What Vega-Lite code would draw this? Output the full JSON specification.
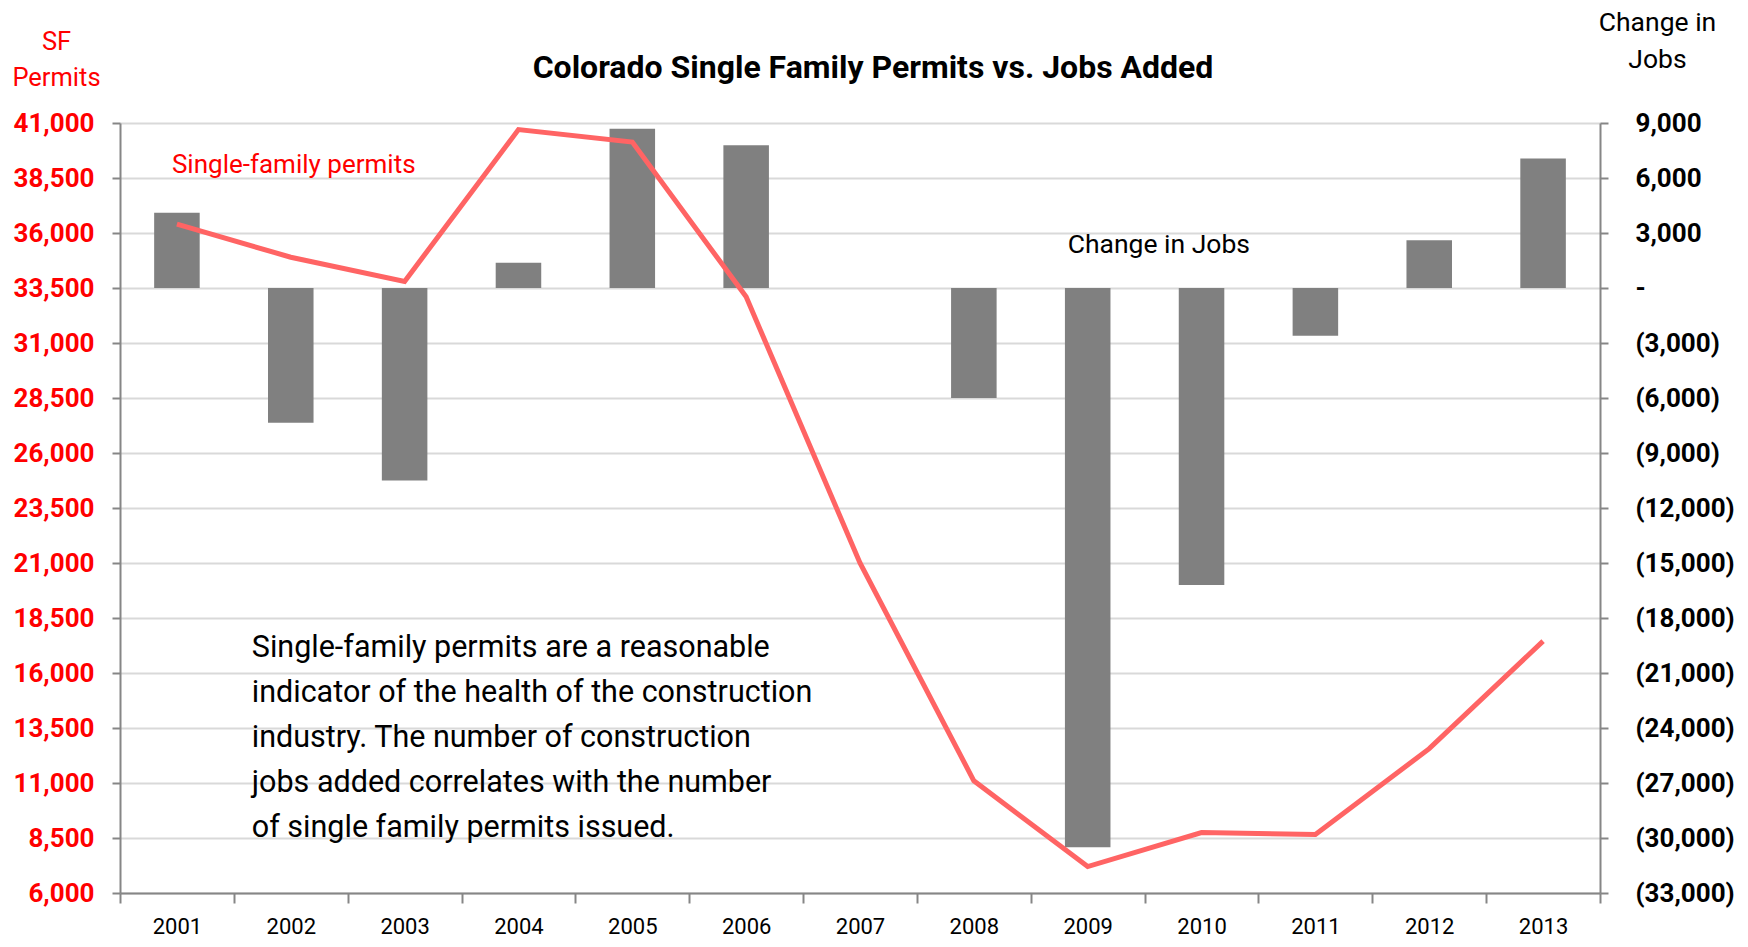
{
  "$schema": "https://vega.github.io/schema/vega-lite/v6.json",
  "width": 1480,
  "height": 770,
  "autosize": {"type": "none"},
  "padding": {"left": 120, "top": 123, "right": 148, "bottom": 54},
  "background": "white",
  "title": {
    "text": "Colorado Single Family Permits vs. Jobs Added",
    "font": "Roboto",
    "fontSize": 32,
    "fontWeight": "bold",
    "color": "#000000",
    "anchor": "middle",
    "frame": "group",
    "baseline": "alphabetic",
    "dx": 13,
    "offset": -101
  },
  "datasets": {
    "main": [
      {"year": "2001", "permits": 36400, "jobs": 4100},
      {"year": "2002", "permits": 34900, "jobs": -7350},
      {"year": "2003", "permits": 33800, "jobs": -10500},
      {"year": "2004", "permits": 40700, "jobs": 1380},
      {"year": "2005", "permits": 40130, "jobs": 8690},
      {"year": "2006", "permits": 33100, "jobs": 7780},
      {"year": "2007", "permits": 21000, "jobs": 0},
      {"year": "2008", "permits": 11100, "jobs": -6000},
      {"year": "2009", "permits": 7200, "jobs": -30500},
      {"year": "2010", "permits": 8750, "jobs": -16200},
      {"year": "2011", "permits": 8660, "jobs": -2600},
      {"year": "2012", "permits": 12560, "jobs": 2600},
      {"year": "2013", "permits": 17450, "jobs": 7070}
    ]
  },
  "layer": [
    {
      "data": {"name": "main"},
      "mark": {"type": "bar", "color": "#808080", "width": {"band": 0.4}},
      "encoding": {
        "x": {
          "field": "year", "type": "ordinal",
          "scale": {"paddingInner": 0, "paddingOuter": 0},
          "axis": {
            "title": null, "labelAngle": 0, "tickBand": "extent",
            "labelFontSize": 22, "labelColor": "#000000", "labelFont": "Roboto",
            "tickSize": 10, "labelPadding": 13, "grid": false
          }
        },
        "y": {
          "field": "jobs", "type": "quantitative",
          "scale": {"domain": [-33000, 9000], "nice": false},
          "axis": {
            "orient": "right",
            "values": [-33000, -30000, -27000, -24000, -21000, -18000, -15000, -12000, -9000, -6000, -3000, 0, 3000, 6000, 9000],
            "labelExpr": "datum.value == 0 ? '-' : (datum.value < 0 ? '(' + format(-datum.value, ',') + ')' : format(datum.value, ','))",
            "grid": false,
            "labelFontSize": 26, "labelFontWeight": "bold", "labelColor": "#000000", "labelFont": "Roboto",
            "tickSize": 8, "labelPadding": 27,
            "title": ["Change in", "Jobs"],
            "titleAngle": 0, "titleAlign": "center", "titleBaseline": "alphabetic",
            "titleX": 57, "titleY": -93,
            "titleFont": "Roboto", "titleFontSize": 26.5, "titleFontWeight": "normal",
            "titleColor": "#000000", "titleLineHeight": 37
          }
        }
      }
    },
    {
      "layer": [
        {
          "data": {"name": "main"},
          "mark": {"type": "line", "color": "#FF6464", "strokeWidth": 5},
          "encoding": {
            "x": {"field": "year", "type": "ordinal", "bandPosition": 0.5},
            "y": {
              "field": "permits", "type": "quantitative",
              "scale": {"domain": [6000, 41000], "nice": false},
              "axis": {
                "orient": "left",
                "values": [6000, 8500, 11000, 13500, 16000, 18500, 21000, 23500, 26000, 28500, 31000, 33500, 36000, 38500, 41000],
                "labelExpr": "format(datum.value, ',')",
                "grid": true,
                "labelFontSize": 26, "labelFontWeight": "bold", "labelColor": "#FF0000", "labelFont": "Roboto",
                "tickSize": 8, "labelPadding": 18,
                "title": ["SF", "Permits"],
                "titleAngle": 0, "titleAlign": "center", "titleBaseline": "alphabetic",
                "titleX": -64, "titleY": -74,
                "titleFont": "Roboto", "titleFontSize": 25.5, "titleFontWeight": "normal",
                "titleColor": "#FF0000", "titleLineHeight": 36
              }
            }
          }
        },
        {
          "data": {"values": [{"year": "2001", "permits": 39070, "label": "Single-family permits"}]},
          "mark": {"type": "text", "align": "left", "baseline": "middle", "dx": -5, "font": "Roboto", "fontSize": 26, "color": "#FF0000"},
          "encoding": {
            "x": {"field": "year", "type": "ordinal", "bandPosition": 0.5},
            "y": {"field": "permits", "type": "quantitative"},
            "text": {"field": "label"}
          }
        },
        {
          "data": {"values": [{"year": "2009", "permits": 35440, "label": "Change in Jobs"}]},
          "mark": {"type": "text", "align": "left", "baseline": "middle", "dx": -20, "font": "Roboto", "fontSize": 26.5, "color": "#000000"},
          "encoding": {
            "x": {"field": "year", "type": "ordinal", "bandPosition": 0.5},
            "y": {"field": "permits", "type": "quantitative"},
            "text": {"field": "label"}
          }
        },
        {
          "data": {"values": [{"year": "2002", "permits": 17120, "label": "Single-family permits are a reasonable|indicator of the health of the construction|industry. The number of construction|jobs added correlates with the number|of single family permits issued."}]},
          "mark": {"type": "text", "align": "left", "baseline": "middle", "dx": -39, "lineBreak": "|", "lineHeight": 45, "font": "Roboto", "fontSize": 30.5, "color": "#000000"},
          "encoding": {
            "x": {"field": "year", "type": "ordinal", "bandPosition": 0.5},
            "y": {"field": "permits", "type": "quantitative"},
            "text": {"field": "label"}
          }
        }
      ]
    }
  ],
  "resolve": {"scale": {"y": "independent"}},
  "config": {
    "view": {"stroke": null},
    "font": "Roboto",
    "axis": {
      "domainColor": "#868686", "domainWidth": 2,
      "tickColor": "#868686", "tickWidth": 2,
      "gridColor": "#D9D9D9", "gridWidth": 2
    }
  }
}
